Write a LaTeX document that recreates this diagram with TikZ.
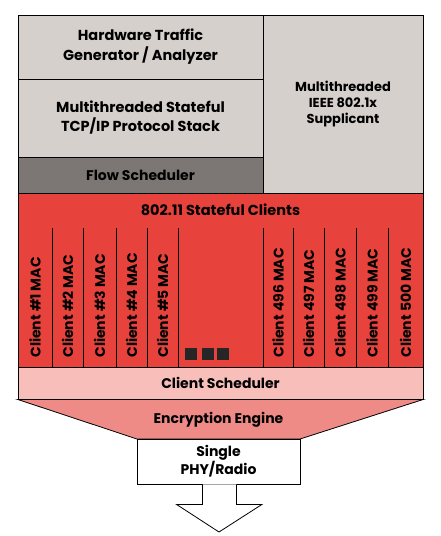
\documentclass[tikz,border=0pt]{standalone}
\usepackage{fontspec}
\setmainfont{Poppins}
\usetikzlibrary{calc}
\definecolor{lgray}{HTML}{D6D0CC}
\definecolor{dgray}{HTML}{7C7774}
\definecolor{cred}{HTML}{E8423C}
\definecolor{cpink}{HTML}{F8BEBA}
\definecolor{csalmon}{HTML}{EE8B86}
\tikzset{
  blk/.style={draw,line width=0.8pt,inner sep=0pt,align=center,font=\fontsize{14}{19}\selectfont\bfseries},
  lbl/.style={inner sep=0pt,font=\fontsize{14}{19}\selectfont\bfseries},
  mac/.style={rotate=90,anchor=west,inner sep=0pt,font=\fontsize{14}{15}\selectfont\bfseries},
  sq/.style={fill=black!85,minimum size=12pt,inner sep=0pt},
  every picture/.style={line width=0.8pt},
}
\begin{document}
\begin{tikzpicture}[x=1pt,y=-1pt]
\useasboundingbox (0,0) rectangle (441,536);
\node[blk,fill=lgray,minimum width=245,minimum height=64,font=\fontsize{14.5}{20}\selectfont\bfseries] (hw) at (140.5,47) {Hardware Traffic\\Generator / Analyzer};
\node[blk,fill=lgray,minimum width=245,minimum height=78,font=\fontsize{14.5}{19}\selectfont\bfseries] (tcp) at (140.5,118) {Multithreaded Stateful\\TCP/IP Protocol Stack};
\node[blk,fill=dgray,minimum width=245,minimum height=36] (flow) at (140.5,175) {Flow Scheduler};
\node[blk,fill=lgray,minimum width=160,minimum height=178,font=\fontsize{13}{16}\selectfont\bfseries] (supp) at (343,104) {Multithreaded\\IEEE 802.1x\\Supplicant};
\node[blk,fill=cred,minimum width=405,minimum height=174] (cli) at (220.5,280) {};
\node[lbl,font=\fontsize{14.5}{19}\selectfont\bfseries] (ctitle) at (220.5,210) {802.11 Stateful Clients};
% client columns
\foreach \x in {52,83,116,147,178,263,293,324,356,388}{\draw (\x,228) -- (\x,367);}
\foreach \n/\x/\t in {c1/35/Client \#1 MAC,c2/67.5/Client \#2 MAC,c3/99.5/Client \#3 MAC,c4/131.5/Client \#4 MAC,c5/162.5/Client \#5 MAC,c496/278/Client 496 MAC,c497/308.5/Client 497 MAC,c498/340/Client 498 MAC,c499/372/Client 499 MAC,c500/405.5/Client 500 MAC}{\node[mac] (\n) at (\x,358) {\t};}
\foreach \n/\x in {d1/190.5,d2/208,d3/223}{\node[sq] (\n) at (\x,354) {};}
\node[blk,fill=cpink,minimum width=405,minimum height=32] (csch) at (220.5,383) {Client Scheduler};
\draw[fill=csalmon] (csch.south west) -- (csch.south east) -- (300,439) -- (137,439) -- cycle;
\node[lbl] (enc) at (218.5,420) {Encryption Engine};
\node[blk,fill=white,minimum width=163,minimum height=45,font=\fontsize{14}{17}\selectfont\bfseries] (phy) at (218.5,461.5) {Single\\PHY/Radio};
\coordinate (tip) at (219,532);
\draw[fill=white] ($(phy.south)+(-16,0)$) -- ++(0,20) -- ++(-26,0) -- (tip) -- ($(phy.south)+(43.5,20)$) -- ++(-25.5,0) -- ($(phy.south)+(18,0)$);
\end{tikzpicture}
\end{document}
